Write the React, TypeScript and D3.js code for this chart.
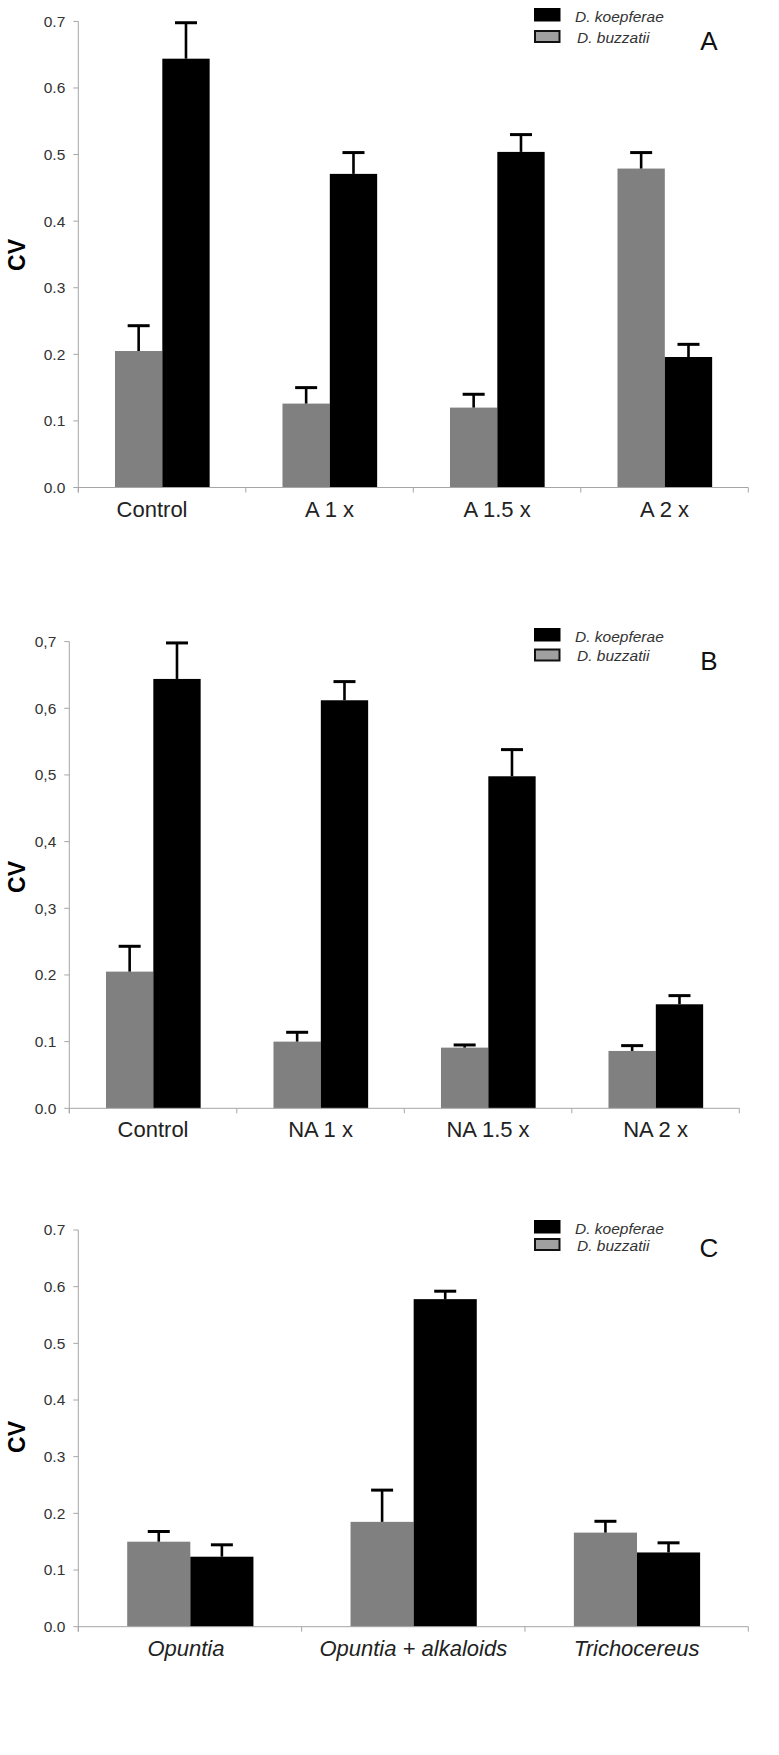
import React from "react";
import * as d3 from "d3";

// ---------- data ----------
const seriesNames = ["D. koepferae", "D. buzzatii"];

const catsA = ["Control", "A 1 x", "A 1.5 x", "A 2 x"];
const buzA = [0.205, 0.126, 0.12, 0.479];
const buzSeA = [0.038, 0.024, 0.02, 0.024];
const koeA = [0.644, 0.471, 0.504, 0.196];
const koeSeA = [0.054, 0.032, 0.026, 0.019];

const catsB = ["Control", "NA 1 x", "NA 1.5 x", "NA 2 x"];
const buzB = [0.205, 0.1, 0.091, 0.086];
const buzSeB = [0.038, 0.014, 0.004, 0.008];
const koeB = [0.644, 0.612, 0.498, 0.156];
const koeSeB = [0.054, 0.028, 0.04, 0.013];

const catsC = ["Opuntia", "Opuntia + alkaloids", "Trichocereus"];
const buzC = [0.15, 0.185, 0.166];
const buzSeC = [0.018, 0.056, 0.02];
const koeC = [0.1235, 0.578, 0.131];
const koeSeC = [0.021, 0.014, 0.017];

const tickValues = [0, 0.1, 0.2, 0.3, 0.4, 0.5, 0.6, 0.7];
const tickLabelsA = ["0.0", "0.1", "0.2", "0.3", "0.4", "0.5", "0.6", "0.7"];
const tickLabelsB = ["0.0", "0.1", "0.2", "0,3", "0,4", "0,5", "0,6", "0,7"];
const tickLabelsC = ["0.0", "0.1", "0.2", "0.3", "0.4", "0.5", "0.6", "0.7"];

const yLabel = "CV";
const panelLetters = ["A", "B", "C"];

// ---------- layout ----------
const FONT = "'Liberation Sans', Arial, Helvetica, sans-serif";
const GRAY = "#808080";
const AXIS = "#a6a6a6";

const panels = [
  {
    cats: catsA, buz: buzA, buzSe: buzSeA, koe: koeA, koeSe: koeSeA, ticks: tickLabelsA,
    left: 78.3, right: 748.3, top: 21.4, bottom: 487.5,
    legTop: 8, legGap: 22, letterY: 49.5, cvY: 255, italic: false, firstShift: -10,
  },
  {
    cats: catsB, buz: buzB, buzSe: buzSeB, koe: koeB, koeSe: koeSeB, ticks: tickLabelsB,
    left: 69.3, right: 739.3, top: 641.6, bottom: 1108.3,
    legTop: 628, legGap: 20.5, letterY: 670, cvY: 877, italic: false, firstShift: 0,
  },
  {
    cats: catsC, buz: buzC, buzSe: buzSeC, koe: koeC, koeSe: koeSeC, ticks: tickLabelsC,
    left: 78.3, right: 748.3, top: 1230, bottom: 1626.7,
    legTop: 1220, legGap: 18, letterY: 1257, cvY: 1437, italic: true, firstShift: -4,
  },
];

function ErrorBar({ x, y0, y1 }: { x: number; y0: number; y1: number }) {
  const cap = 11;
  return (
    <g stroke="#000" strokeWidth={2.6} fill="none">
      <line x1={x} x2={x} y1={y0} y2={y1} />
      <line x1={x - cap} x2={x + cap} y1={y1} y2={y1} strokeWidth={3} />
    </g>
  );
}

function Panel({ p, idx }: { p: any; idx: number }) {
  const x = d3.scaleBand<string>().domain(p.cats).range([p.left, p.right]).paddingInner(0).paddingOuter(0);
  const y = d3.scaleLinear().domain([0, 0.7]).range([p.bottom, p.top]);
  const bw = x.bandwidth();
  const barW = bw * 0.2826;
  const off = bw * 0.219;
  const boundaries = [...p.cats.map((c: string) => x(c) as number), p.right];

  return (
    <g>
      {p.cats.map((c: string, i: number) => {
        const x0 = (x(c) as number) + off;
        const x1 = x0 + barW;
        return (
          <g key={c}>
            <rect x={x0} y={y(p.buz[i])} width={barW} height={y(0) - y(p.buz[i])} fill={GRAY} />
            <rect x={x1} y={y(p.koe[i])} width={barW} height={y(0) - y(p.koe[i])} fill="#000" />
            <ErrorBar x={x0 + barW / 2} y0={y(p.buz[i])} y1={y(p.buz[i] + p.buzSe[i])} />
            <ErrorBar x={x1 + barW / 2} y0={y(p.koe[i])} y1={y(p.koe[i] + p.koeSe[i])} />
          </g>
        );
      })}
      <line x1={p.left} x2={p.left} y1={y(0.7)} y2={y(0) + 5} stroke={AXIS} strokeWidth={1} />
      {tickValues.map((t, i) => (
        <g key={t}>
          <line x1={p.left - 5} x2={p.left} y1={y(t)} y2={y(t)} stroke={AXIS} strokeWidth={1} />
          <text x={p.left - 13} y={y(t)} dy="0.35em" textAnchor="end" fontSize={15.5} fill="#333" fontFamily={FONT}>
            {p.ticks[i]}
          </text>
        </g>
      ))}
      <line x1={p.left} x2={p.right} y1={y(0)} y2={y(0)} stroke={AXIS} strokeWidth={1} />
      {boundaries.map((b: number, i: number) => (
        <line key={i} x1={b} x2={b} y1={y(0)} y2={y(0) + 5} stroke={AXIS} strokeWidth={1} />
      ))}
      {p.cats.map((c: string, i: number) => (
        <text
          key={c}
          x={(x(c) as number) + bw / 2 + (i === 0 ? p.firstShift : 0)}
          y={y(0) + 29}
          textAnchor="middle"
          fontSize={22}
          fontStyle={p.italic ? "italic" : "normal"}
          fill="#222"
          fontFamily={FONT}
        >
          {c}
        </text>
      ))}
      <text
        transform={`translate(25,${p.cvY}) rotate(-90)`}
        textAnchor="middle"
        fontSize={23}
        fontWeight="bold"
        fill="#000"
        fontFamily={FONT}
      >
        {yLabel}
      </text>
      <rect x={534} y={p.legTop} width={26.5} height={13.5} fill="#000" />
      <rect x={535} y={p.legTop + p.legGap + 1} width={24.5} height={11} fill="#a0a0a0" stroke="#111" strokeWidth={2} />
      <text x={575} y={p.legTop + 14} fontSize={15.5} fontStyle="italic" fill="#333" fontFamily={FONT}>
        {seriesNames[0]}
      </text>
      <text x={577} y={p.legTop + p.legGap + 12.5} fontSize={15.5} fontStyle="italic" fill="#333" fontFamily={FONT}>
        {seriesNames[1]}
      </text>
      <text x={709} y={p.letterY} textAnchor="middle" fontSize={26} fill="#111" fontFamily={FONT}>
        {panelLetters[idx]}
      </text>
    </g>
  );
}

export default function App() {
  return (
    <svg
      width={779}
      height={1755}
      viewBox="0 0 779 1755"
      style={{ position: "absolute", left: 0, top: 0, background: "#fff" }}
    >
      <rect x={0} y={0} width={779} height={1755} fill="#fff" />
      {panels.map((p, i) => (
        <Panel key={i} p={p} idx={i} />
      ))}
    </svg>
  );
}
